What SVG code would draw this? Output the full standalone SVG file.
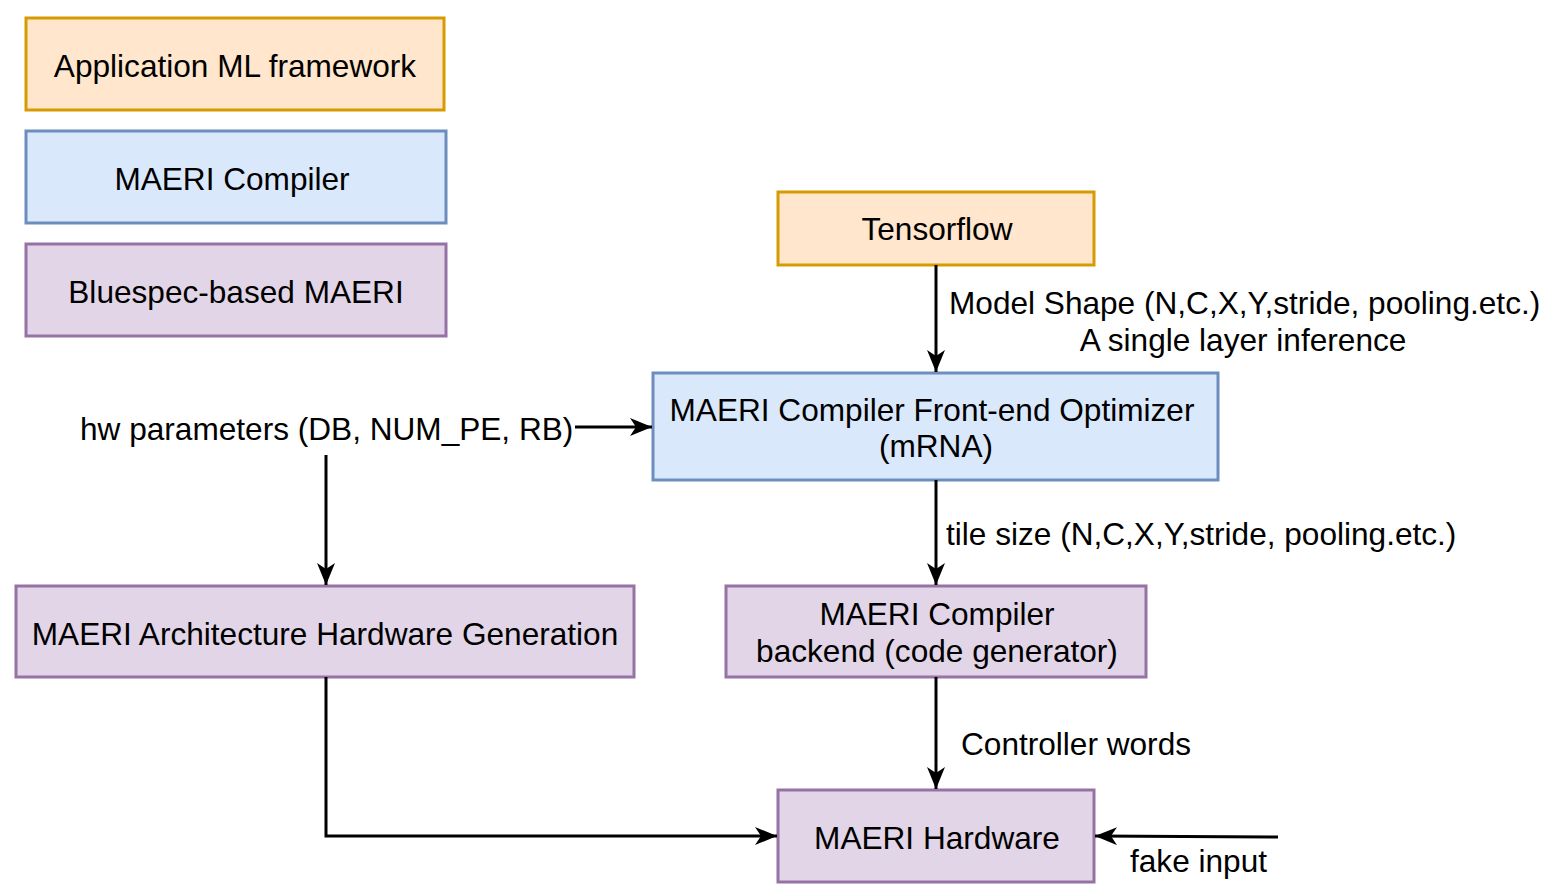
<svg xmlns="http://www.w3.org/2000/svg" width="1553" height="896" viewBox="0 0 1553 896">
<style>
text{font-family:"Liberation Sans",Arial,sans-serif;font-size:31.6px;fill:#000}
.c{text-anchor:middle}
.o{fill:#ffe6cc;stroke:#d79b00;stroke-width:3}
.b{fill:#dae8fc;stroke:#6c8ebf;stroke-width:3}
.p{fill:#e1d5e7;stroke:#9673a6;stroke-width:3}
.e{fill:none;stroke:#000;stroke-width:3;marker-end:url(#ah)}
</style>
<defs>
<marker id="ah" markerWidth="24" markerHeight="20" refX="22" refY="9" orient="auto" markerUnits="userSpaceOnUse">
<path d="M0,0 L22,9 L0,18 L6,9 Z" fill="#000"/>
</marker>
</defs>
<rect width="1553" height="896" fill="#fff"/>
<g id="legend-app"><rect class="o" x="26" y="18" width="418" height="92"/><text class="c" x="235" y="77">Application ML framework</text></g>
<g id="legend-compiler"><rect class="b" x="26" y="131" width="420" height="92"/><text class="c" x="232" y="190">MAERI Compiler</text></g>
<g id="legend-bluespec"><rect class="p" x="26" y="244" width="420" height="92"/><text class="c" x="236" y="303">Bluespec-based MAERI</text></g>
<g id="tensorflow"><rect class="o" x="778" y="192" width="316" height="73"/><text class="c" x="937" y="240">Tensorflow</text></g>
<g id="frontend"><rect class="b" x="653" y="373" width="565" height="107"/><text class="c" x="932" y="421">MAERI Compiler Front-end Optimizer</text><text class="c" x="936" y="457">(mRNA)</text></g>
<g id="archgen"><rect class="p" x="16" y="586" width="618" height="91"/><text class="c" x="325" y="645">MAERI Architecture Hardware Generation</text></g>
<g id="backend"><rect class="p" x="726" y="586" width="420" height="91"/><text class="c" x="937" y="625">MAERI Compiler</text><text class="c" x="937" y="662">backend (code generator)</text></g>
<g id="hardware"><rect class="p" x="778" y="790" width="316" height="92"/><text class="c" x="937" y="849">MAERI Hardware</text></g>
<g id="hwparams"><text x="80" y="440">hw parameters (DB, NUM_PE, RB)</text></g>
<g id="connectors">
<path class="e" d="M936,265 V372"/>
<path class="e" d="M575,427 H652"/>
<path class="e" d="M326,455 V585"/>
<path class="e" d="M936,480 V585"/>
<path class="e" d="M936,677 V789"/>
<path class="e" d="M326,677 V836 H777"/>
<path class="e" d="M1278,837 L1095,836"/>
</g>
<g id="labels">
<text x="949" y="314">Model Shape (N,C,X,Y,stride, pooling.etc.)</text>
<text class="c" x="1243" y="351">A single layer inference</text>
<text x="946" y="545">tile size (N,C,X,Y,stride, pooling.etc.)</text>
<text x="961" y="755">Controller words</text>
<text x="1130" y="872">fake input</text>
</g>
</svg>
